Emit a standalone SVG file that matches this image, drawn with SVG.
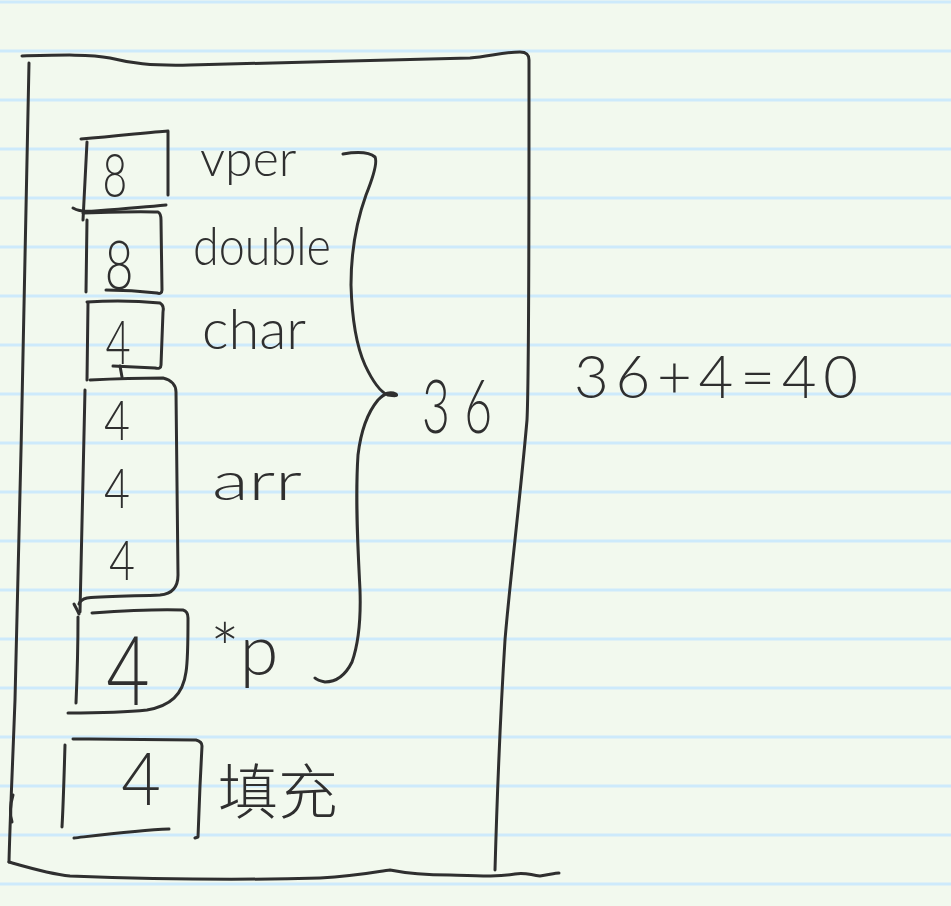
<svg xmlns="http://www.w3.org/2000/svg" width="951" height="906" viewBox="0 0 951 906">
<style>
.rule{stroke:#cdeafb;stroke-width:3}
.ink{fill:none;stroke:#2f2f2f;stroke-width:3;stroke-linecap:round;stroke-linejoin:round}
.t{fill:#2f2f2f;font-family:"Lato","Liberation Sans",sans-serif;font-weight:300}
.num{text-anchor:middle}
.cjk{fill:#2f2f2f;font-family:"Noto Sans CJK SC",sans-serif;font-weight:300}
</style>
<rect width="951" height="906" fill="#f2f9ee"/>
<g id="paper-rules">
<line class="rule" x1="0" y1="2" x2="951" y2="2"/>
<line class="rule" x1="0" y1="51" x2="951" y2="51"/>
<line class="rule" x1="0" y1="100" x2="951" y2="100"/>
<line class="rule" x1="0" y1="149" x2="951" y2="149"/>
<line class="rule" x1="0" y1="198" x2="951" y2="198"/>
<line class="rule" x1="0" y1="247" x2="951" y2="247"/>
<line class="rule" x1="0" y1="296" x2="951" y2="296"/>
<line class="rule" x1="0" y1="345" x2="951" y2="345"/>
<line class="rule" x1="0" y1="394" x2="951" y2="394"/>
<line class="rule" x1="0" y1="443" x2="951" y2="443"/>
<line class="rule" x1="0" y1="492" x2="951" y2="492"/>
<line class="rule" x1="0" y1="541" x2="951" y2="541"/>
<line class="rule" x1="0" y1="590" x2="951" y2="590"/>
<line class="rule" x1="0" y1="639" x2="951" y2="639"/>
<line class="rule" x1="0" y1="688" x2="951" y2="688"/>
<line class="rule" x1="0" y1="737" x2="951" y2="737"/>
<line class="rule" x1="0" y1="786" x2="951" y2="786"/>
<line class="rule" x1="0" y1="835" x2="951" y2="835"/>
<line class="rule" x1="0" y1="884" x2="951" y2="884"/>
</g>
<g id="outer-struct">
<path class="ink" d="M22,56 C60,55 90,54 110,58 C130,63 150,66 190,65 C260,63 400,60 470,58 C490,56 505,52 520,52 C527,52 529,55 529,60 L529,110 C529,250 529,380 527,420 C520,500 510,580 505,640 C500,720 497,800 495,870"/>
<path class="ink" d="M29,63 C27,200 20,500 15,700 C12,780 10,820 9,862"/>
<path class="ink" d="M13,795 C10,805 10,815 12,822"/>
<path class="ink" d="M9,862 C30,868 50,874 70,876 C150,879 250,880 320,878 C360,876 380,871 390,870 C400,872 420,875 450,875 C480,876 500,877 515,874 C525,872 530,875 540,876 C548,875 555,873 559,873"/>
</g>
<g id="field-vper">
<path class="ink" d="M81,139 C120,136 150,132 168,131 L168,195"/>
<path class="ink" d="M87,142 L83,220"/>
<path class="ink" d="M73,208 C78,211 85,212 95,211 C120,209 145,207 166,205"/>
<text class="t num" transform="translate(115 197) scale(0.7 1)" font-size="61">8</text>
<text class="t" x="200" y="176" font-size="50">vper</text>
</g>
<g id="field-double">
<path class="ink" d="M83,213 C110,212 140,211 158,212 C160,213 161,215 161,220 L162,290 C162,293 160,294 157,293 C140,291 120,290 106,290"/>
<path class="ink" d="M87,220 L86,292"/>
<text class="t num" transform="translate(119 289) scale(0.75 1)" font-size="66">8</text>
<text class="t" x="193" y="265" font-size="54" textLength="138" lengthAdjust="spacingAndGlyphs">double</text>
</g>
<g id="field-char">
<path class="ink" d="M87,302 C115,300 140,301 160,303 C163,305 164,308 163,312 L161,365 C161,368 159,369 155,368 L113,366"/>
<path class="ink" d="M120,366 L122,377"/>
<path class="ink" d="M88,303 L87,380"/>
<text class="t num" transform="translate(118 364) scale(0.7 1)" font-size="62">4</text>
<text class="t" x="202" y="349" font-size="56">char</text>
</g>
<g id="field-arr">
<path class="ink" d="M90,380 C110,379 140,378 163,378 C172,380 176,386 176,392 L178,575 C178,588 172,594 160,595 C140,596 110,596 87,598 C83,599 80,601 79,604"/>
<path class="ink" d="M85,390 C84,450 82,520 80,612"/>
<path class="ink" d="M74,604 C76,608 78,611 79,614"/>
<text class="t num" transform="translate(117 440) scale(0.8 1)" font-size="56">4</text>
<text class="t num" transform="translate(117 508) scale(0.8 1)" font-size="56">4</text>
<text class="t num" transform="translate(122 580) scale(0.8 1)" font-size="56">4</text>
<text class="t" transform="translate(212 500) scale(1.4 1)" font-size="54">arr</text>
</g>
<g id="field-p">
<path class="ink" d="M92,613 C120,611 160,609 183,610 C187,611 188,614 188,618 C188,640 188,660 186,672 C183,695 170,706 147,710 C120,713 90,713 68,713"/>
<path class="ink" d="M78,617 C78,650 77,680 76,703"/>
<text class="t num" transform="translate(128 705) scale(0.78 1)" font-size="96">4</text>
<text class="t" x="210" y="675" font-size="70">*p</text>
</g>
<g id="field-padding">
<path class="ink" d="M73,739 C120,739 170,740 196,740 C200,741 202,743 202,746 L200,786 L198,837 L195,838"/>
<path class="ink" d="M65,745 C64,780 63,810 62,827"/>
<path class="ink" d="M74,838 C100,835 140,830 169,829"/>
<text class="t num" transform="translate(141 805) scale(0.95 1)" font-size="72">4</text>
<text class="cjk" x="218" y="814" font-size="60">填充</text>
</g>
<g id="connectors">
<path class="ink" d="M343,154 C355,152 368,151 375,157 C378,163 372,180 366,195 C357,220 351,250 351,285 C352,320 356,345 365,365 C372,380 380,392 388,395 C395,396 398,396 396,394 C390,391 385,393 378,400 C368,412 361,430 358,455 C355,500 358,550 360,590 C361,620 358,645 352,662 C345,676 335,682 325,682 C320,681 317,680 315,678"/>
</g>
<g id="total-36">
<text class="t" transform="translate(422 433) scale(0.65 1)" font-size="74" letter-spacing="22">36</text>
</g>
<g id="total-40">
<text class="t" x="574" y="398" font-size="60" textLength="284" lengthAdjust="spacing">36+4=40</text>
</g>
</svg>
